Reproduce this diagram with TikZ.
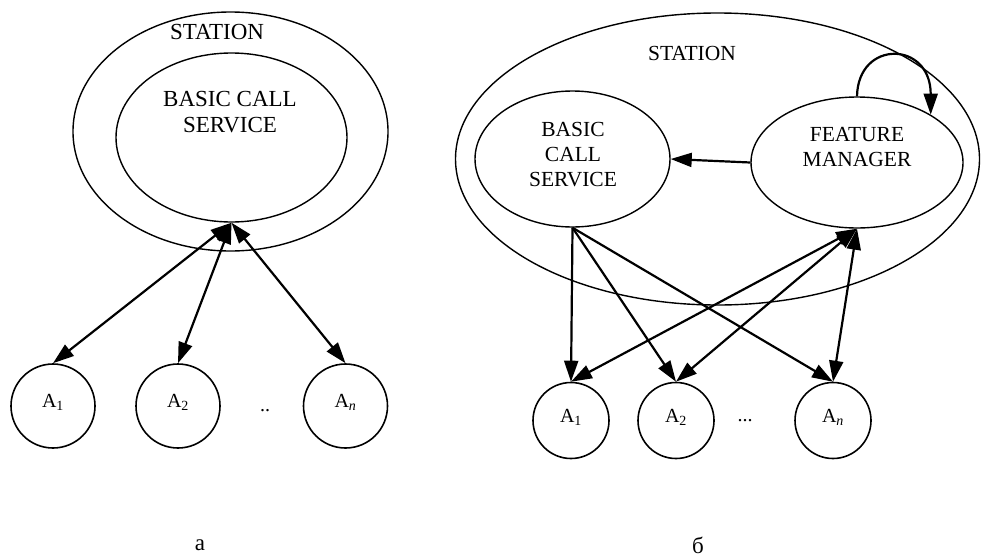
\documentclass[tikz,border=0pt]{standalone}
\usepackage{fontspec}
\setmainfont{Liberation Serif}
\usetikzlibrary{arrows.meta,shapes.geometric}

\begin{document}
\begin{tikzpicture}[x=1pt, y=-1pt, >={Triangle[length=21pt, width=14pt]},
        oval/.style={draw, ellipse, line width=1.4pt, inner sep=0pt},
        agent/.style={draw, circle, line width=1.6pt, inner sep=0pt, text height=13pt, text depth=10pt},
        link/.style={line width=2.2pt},
        bigtext/.style={font=\fontsize{23}{26}\selectfont, align=center},
        midtext/.style={font=\fontsize{21.5}{25}\selectfont, align=center},
        smalltext/.style={font=\fontsize{20}{24}\selectfont}]
        \useasboundingbox (0,0) rectangle (981,557);

        % station with the basic call service only
        \node[oval, minimum width=315pt, minimum height=239pt] (stA)   at (230.5,131.5) {};
        \node[oval, minimum width=231pt, minimum height=169pt] (bcsA)  at (231.5,137.5) {};
        \node[bigtext] (stAtxt)  at (217,32)  {STATION};
        \node[bigtext] (bcsAtxt) at (230,112) {BASIC CALL\\SERVICE};
        \node[agent, minimum size=84pt, smalltext] (a1) at (53,406)    {A\textsubscript{1}};
        \node[agent, minimum size=84pt, smalltext] (a2) at (178,406)   {A\textsubscript{2}};
        \node[agent, minimum size=84pt, smalltext] (an) at (345.5,406) {A\textsubscript{\textit{n}}};
        \node[smalltext] (dotsA) at (265,411) {..};
        \node[bigtext]   (capA)  at (200,545) {а};
        \draw[link, <->] (bcsA.south) -- (a1.north);
        \draw[link, <->] (bcsA.south) -- (a2.north);
        \draw[link, <->] (bcsA.south) -- (an.north);

        % station with a feature manager
        \node[oval, minimum width=524pt, minimum height=292pt] (stB)  at (717.5,159) {};
        \node[oval, minimum width=195pt, minimum height=136pt] (bcsB) at (572.5,159) {};
        \node[oval, minimum width=212pt, minimum height=131pt] (fm)   at (857,162.5) {};
        \node[midtext] (stBtxt)  at (692,53)  {STATION};
        \node[midtext] (bcsBtxt) at (573,155) {BASIC\\CALL\\SERVICE};
        \node[midtext] (fmtxt)   at (857,147) {FEATURE\\MANAGER};
        \node[agent, minimum size=76pt, smalltext] (b1) at (571,420.5) {A\textsubscript{1}};
        \node[agent, minimum size=76pt, smalltext] (b2) at (676,420.5) {A\textsubscript{2}};
        \node[agent, minimum size=76pt, smalltext] (bn) at (833,420.5) {A\textsubscript{\textit{n}}};
        \node[smalltext] (dotsB) at (745,421) {...};
        \node[bigtext]   (capB)  at (698,545) {б};
        \draw[link, ->] (fm.west) -- (bcsB.east);
        \draw[link, ->] (fm.north) .. controls +(1,-57) and +(0,-74) .. (fm.33);
        \draw[link, ->] (bcsB.south) -- (b1.north);
        \draw[link, ->] (bcsB.south) -- (b2.north);
        \draw[link, ->] (bcsB.south) -- (bn.north);
        \draw[link, <->] (fm.south) -- (b1.north);
        \draw[link, <->] (fm.south) -- (b2.north);
        \draw[link, <->] (fm.south) -- (bn.north);
    \end{tikzpicture}
\end{document}
